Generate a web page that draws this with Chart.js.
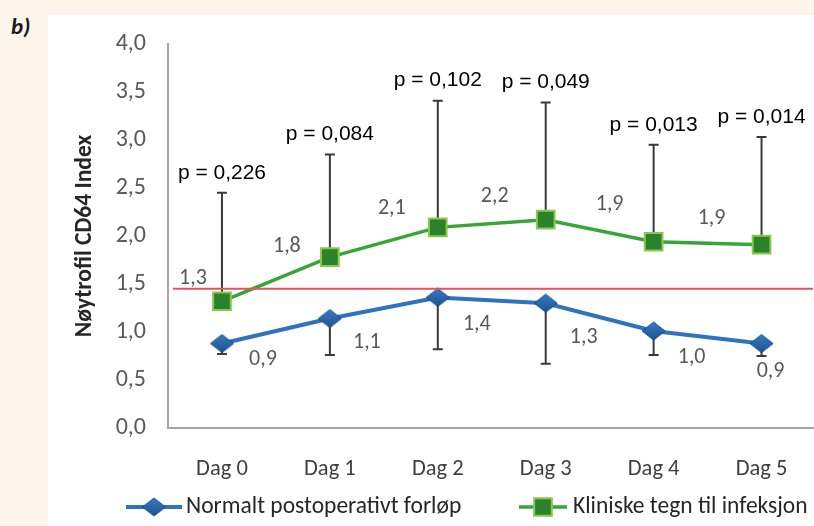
<!DOCTYPE html>
<html>
<head>
<meta charset="utf-8">
<script src="https://cdn.jsdelivr.net/npm/chart.js@4.4.1/dist/chart.umd.min.js"></script>
<style>
  html, body { margin: 0; padding: 0; width: 814px; height: 526px; overflow: hidden; background: #fdf5e9; }
  #panel { position: absolute; left: 48px; top: 15px; width: 800px; height: 560px; background: #ffffff; }
  #tag { position: absolute; left: 11px; top: 12px; font: italic bold 23px Carlito, "Open Sans", sans-serif; color: #1a1a1a; }
  #wrap { position: absolute; left: 0; top: 0; width: 830px; height: 526px; }
</style>
</head>
<body>
<div id="panel"></div>
<div id="tag">b)</div>
<div id="wrap"><canvas id="chart"></canvas></div>
<script>
// ---- data ----
const categories = ['Dag 0', 'Dag 1', 'Dag 2', 'Dag 3', 'Dag 4', 'Dag 5'];
const normalValues = [0.88, 1.14, 1.36, 1.30, 1.01, 0.88];
const normalErrorLow = [0.77, 0.76, 0.82, 0.67, 0.76, 0.75];
const infectionValues = [1.32, 1.78, 2.09, 2.17, 1.94, 1.91];
const infectionErrorHigh = [2.45, 2.85, 3.41, 3.39, 2.95, 3.03];
const pValues = ['0,226', '0,084', '0,102', '0,049', '0,013', '0,014'];
const seriesNames = ['Normalt postoperativt forløp', 'Kliniske tegn til infeksjon'];
const yAxisTitle = 'Nøytrofil CD64 Index';
const thresholdValue = 1.45;

// ---- style / placement ----
const FONT = "Carlito, 'DejaVu Sans Condensed', 'DejaVu Sans', sans-serif";
const ARIAL = "'Liberation Sans', Arial, sans-serif";
const normalLabelOffsets = [[41, 16], [37, 24], [39, 27], [38, 34], [38, 26], [9, 28]];
const infectionLabelOffsets = [[-29, -23], [-43, -11], [-46, -19], [-51, -23], [-44, -37], [-50, -26]];

const fmt = v => v.toFixed(1).replace('.', ',');

// flattened diamond marker
function makeDiamond(w, h) {
  const c = document.createElement('canvas');
  c.width = w + 2; c.height = h + 2;
  const g = c.getContext('2d');
  const cx = c.width / 2, cy = c.height / 2;
  const grad = g.createLinearGradient(0, 0, 0, c.height);
  grad.addColorStop(0, '#3a7cc6');
  grad.addColorStop(0.5, '#2a67aa');
  grad.addColorStop(1, '#1d4f88');
  g.beginPath();
  g.moveTo(cx - w / 2, cy);
  g.lineTo(cx, cy - h / 2);
  g.lineTo(cx + w / 2, cy);
  g.lineTo(cx, cy + h / 2);
  g.closePath();
  g.fillStyle = grad;
  g.fill();
  g.strokeStyle = '#1b4a80';
  g.lineWidth = 1;
  g.stroke();
  return c;
}
const diamond = makeDiamond(23, 18);

const overlay = {
  id: 'overlay',
  beforeDatasetsDraw(chart) {
    const ctx = chart.ctx;
    const y = chart.scales.y;
    ctx.save();
    ctx.strokeStyle = '#3a3a3a';
    ctx.lineWidth = 2;
    const drawBar = (meta, ends) => {
      meta.data.forEach((pt, i) => {
        const ye = y.getPixelForValue(ends[i]);
        ctx.beginPath();
        ctx.moveTo(pt.x, pt.y);
        ctx.lineTo(pt.x, ye);
        ctx.moveTo(pt.x - 5, ye);
        ctx.lineTo(pt.x + 5, ye);
        ctx.stroke();
      });
    };
    drawBar(chart.getDatasetMeta(0), normalErrorLow);
    drawBar(chart.getDatasetMeta(1), infectionErrorHigh);
    ctx.restore();
  },
  afterDatasetsDraw(chart) {
    const ctx = chart.ctx;
    const y = chart.scales.y;
    const area = chart.chartArea;
    ctx.save();
    // threshold line
    const ty = y.getPixelForValue(thresholdValue);
    ctx.strokeStyle = '#e8505b';
    ctx.lineWidth = 2;
    ctx.beginPath();
    ctx.moveTo(area.left + 5, ty);
    ctx.lineTo(813, ty);
    ctx.stroke();

    // value labels
    ctx.font = '22px ' + FONT;
    ctx.fillStyle = '#595959';
    ctx.textAlign = 'center';
    ctx.textBaseline = 'middle';
    chart.getDatasetMeta(0).data.forEach((pt, i) => {
      ctx.fillText(fmt(normalValues[i]), pt.x + normalLabelOffsets[i][0], pt.y + normalLabelOffsets[i][1]);
    });
    chart.getDatasetMeta(1).data.forEach((pt, i) => {
      ctx.fillText(fmt(infectionValues[i]), pt.x + infectionLabelOffsets[i][0], pt.y + infectionLabelOffsets[i][1]);
    });

    // p-values above the upper error bars
    ctx.font = '21px ' + ARIAL;
    ctx.fillStyle = '#000000';
    chart.getDatasetMeta(1).data.forEach((pt, i) => {
      const ye = y.getPixelForValue(infectionErrorHigh[i]);
      ctx.fillText('p = ' + pValues[i], pt.x, ye - 20);
    });
    ctx.restore();
  },
  afterDraw(chart) {
    // custom legend (line + marker)
    const ctx = chart.ctx;
    const ly = 507;
    const items = [
      { ds: chart.data.datasets[0], x0: 126, x1: 182, mx: 154, tx: 186 },
      { ds: chart.data.datasets[1], x0: 519, x1: 567, mx: 543, tx: 573 }
    ];
    ctx.save();
    items.forEach(it => {
      ctx.strokeStyle = it.ds.borderColor;
      ctx.lineWidth = it.ds.borderWidth;
      ctx.beginPath();
      ctx.moveTo(it.x0, ly);
      ctx.lineTo(it.x1, ly);
      ctx.stroke();
      ctx.fillStyle = it.ds.pointBackgroundColor;
      ctx.strokeStyle = it.ds.pointBorderColor;
      ctx.lineWidth = it.ds.pointBorderWidth;
      Chart.helpers.drawPoint(ctx, { pointStyle: it.ds.pointStyle, radius: it.ds.pointRadius, rotation: 0, borderWidth: it.ds.pointBorderWidth }, it.mx, ly);
      ctx.fillStyle = '#262626';
      ctx.font = '23.5px ' + FONT;
      ctx.textAlign = 'left';
      ctx.textBaseline = 'middle';
      ctx.fillText(it.ds.label, it.tx, ly);
    });
    ctx.restore();
  }
};

new Chart(document.getElementById('chart'), {
  type: 'line',
  data: {
    labels: categories,
    datasets: [
      {
        label: seriesNames[0],
        data: normalValues,
        borderColor: '#2f72c2',
        borderWidth: 4,
        pointStyle: diamond,
        pointRadius: 11,
        pointHoverRadius: 11,
        pointBackgroundColor: '#2a68ad',
        pointBorderColor: '#1b4d86',
        pointBorderWidth: 1,
        tension: 0
      },
      {
        label: seriesNames[1],
        data: infectionValues,
        borderColor: '#38a538',
        borderWidth: 3.5,
        pointStyle: 'rect',
        pointRadius: 12.5,
        pointHoverRadius: 12.5,
        pointBackgroundColor: '#2c822c',
        pointBorderColor: '#8cc84b',
        pointBorderWidth: 2,
        tension: 0
      }
    ]
  },
  plugins: [overlay],
  options: {
    responsive: true,
    maintainAspectRatio: false,
    animation: false,
    events: [],
    layout: { padding: { left: 70, top: 44, right: 12, bottom: 0 } },
    plugins: { legend: { display: false }, tooltip: { enabled: false } },
    scales: {
      x: {
        type: 'category',
        offset: true,
        grid: { display: false, drawTicks: false },
        border: { display: true, color: '#a6a6a6', width: 2 },
        ticks: { color: '#404040', font: { family: FONT, size: 22.5 }, padding: 28, maxRotation: 0 },
        afterFit(scale) { scale.height = 98; }
      },
      y: {
        min: 0,
        max: 4,
        grid: { display: false, drawTicks: false },
        border: { display: true, color: '#a6a6a6', width: 2 },
        ticks: { stepSize: 0.5, color: '#595959', font: { family: FONT, size: 24 }, padding: 22, callback: v => fmt(v) },
        title: { display: true, text: yAxisTitle, color: '#262626', font: { family: FONT, size: 23.5, weight: 'bold' }, padding: { top: 1, bottom: 0 } },
        afterFit(scale) { scale.width = 98; }
      }
    }
  }
});
</script>
</body>
</html>
